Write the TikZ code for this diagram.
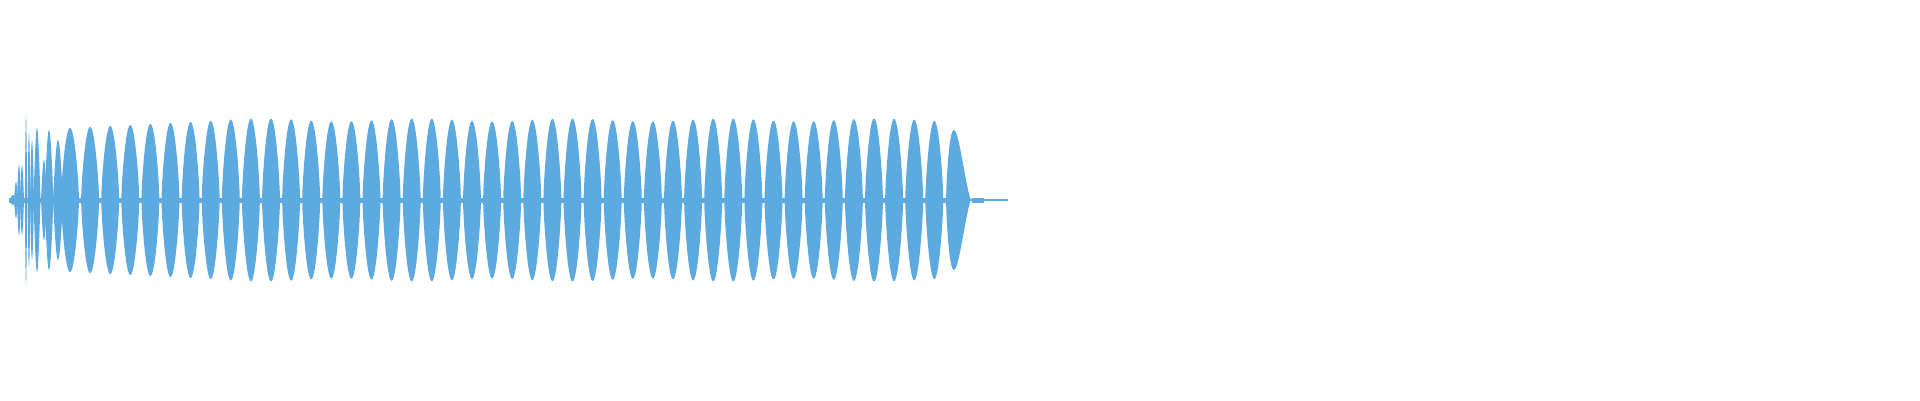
\documentclass[tikz,border=0pt]{standalone}
\begin{document}
\begin{tikzpicture}[x=1pt,y=1pt]
\definecolor{wave}{RGB}{93,170,225}
\tikzset{lobe/.style={fill=wave,draw=none}}
\useasboundingbox (0,0) rectangle (1920,400);
% center band
\fill[wave] (9,197.5) rectangle (970,202.5);
\fill[wave] (970,199.3) rectangle (1008,200.7);
\fill[wave] (972,197.5) rectangle (984,202.5);
% early irregular part: center, half width, amplitude
\foreach \c/\w/\a in {13/3/5, 16/2/18, 19/2/35, 22/2/35, 26/1.2/85, 29/1.5/67, 32/2/60, 37/3.5/72, 44/3/40, 49/4.5/70, 58/5/60}{
  \fill[lobe] plot[domain=-1:1,samples=25,smooth] ({\c+\w*\x},{200+\a*cos(90*\x)}) -- plot[domain=1:-1,samples=25,smooth] ({\c+\w*\x},{200-\a*cos(90*\x)}) -- cycle;
}
% regular lobes
\foreach \i in {0,...,43}{
  \pgfmathsetmacro{\c}{70+20.1*\i}
  \pgfmathsetmacro{\a}{\i<8 ? 72+\i : 80 + 1.5*sin(\i*47)}
  \fill[lobe] (\c-9,200) -- plot[domain=-0.97:0.97,samples=31,smooth] ({\c+9*\x},{200+\a*cos(90*\x)^0.7}) -- (\c+9,200) -- plot[domain=0.97:-0.97,samples=31,smooth] ({\c+9*\x},{200-\a*cos(90*\x)^0.7}) -- cycle;
}
% last decaying lobe
\fill[lobe] (946,200) -- plot[domain=0.02:0.98,samples=40,smooth] ({946+25*\x},{200+70*sin(180*\x^0.6)^1.3}) -- (971,200) -- plot[domain=0.98:0.02,samples=40,smooth] ({946+25*\x},{200-70*sin(180*\x^0.6)^1.3}) -- cycle;
\end{tikzpicture}
\end{document}
